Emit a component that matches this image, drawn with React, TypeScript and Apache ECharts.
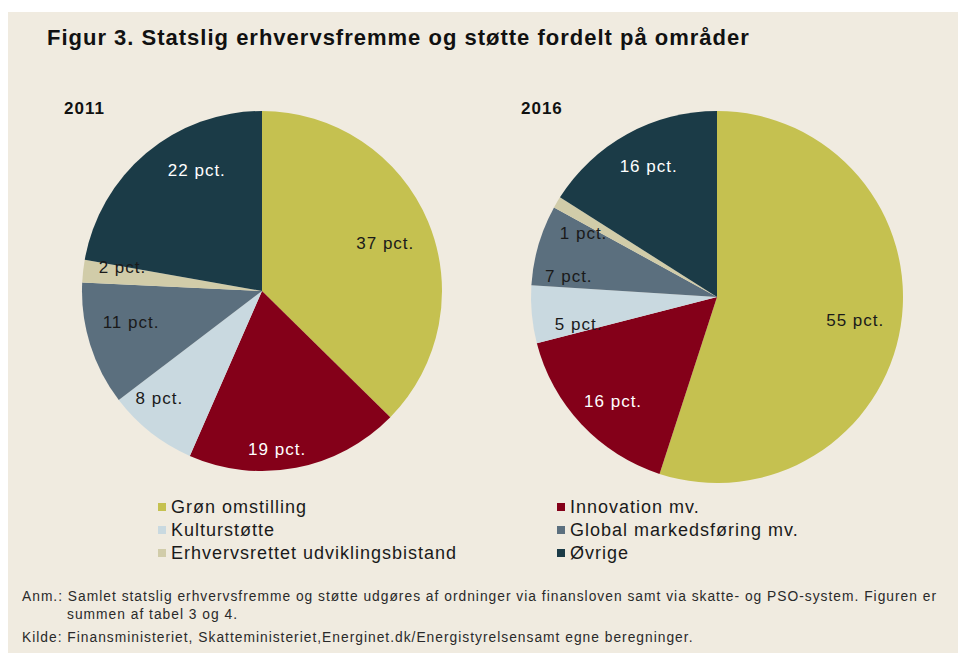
import React, { useEffect, useRef } from "react";
import * as echarts from "echarts";

const categories = [
  "Grøn omstilling",
  "Innovation mv.",
  "Kulturstøtte",
  "Global markedsføring mv.",
  "Erhvervsrettet udviklingsbistand",
  "Øvrige",
];
const values2011 = [37, 19, 8, 11, 2, 22];
const values2016 = [55, 16, 5, 7, 1, 16];
const pieTitles = ["2011", "2016"];
const titleText = "Figur 3. Statslig erhvervsfremme og støtte fordelt på områder";
const noteLines = [
  "Anm.: Samlet statslig erhvervsfremme og støtte udgøres af ordninger via finansloven samt via skatte- og PSO-system. Figuren er",
  "summen af tabel 3 og 4.",
  "Kilde: Finansministeriet, Skatteministeriet,Energinet.dk/Energistyrelsensamt egne beregninger.",
];

const colors = ["#c5c150", "#840019", "#c9d9e0", "#5b6f7e", "#d1cca9", "#1b3b47"];
const labelColors = ["#1a1a1a", "#ffffff", "#1a1a1a", "#1a1a1a", "#1a1a1a", "#ffffff"];
// manual nudges of the slice labels (as placed in the original)
const labelNudge2011 = [[-9, 8], [-12, 18], [-14, -5], [6, -11], [3, -8], [27, -11]];
const labelNudge2016 = [[-8, 0], [4, 3], [9, 14], [-6, 21], [-6, 12], [3, -1]];
const FONT = "'Liberation Sans', Arial, Helvetica, sans-serif";

function buildPie(values: number[], center: number[], r: number, nudge: number[][]) {
  const base = {
    type: "pie",
    center,
    radius: [0, r],
    startAngle: 90,
    clockwise: true,
    silent: true,
    label: { show: false },
    labelLine: { show: false },
    data: values.map((v, i) => ({
      name: categories[i],
      value: v,
      itemStyle: { color: colors[i] },
    })),
  };
  const overlay = {
    type: "pie",
    center,
    radius: [r * 0.56, r],
    startAngle: 90,
    clockwise: true,
    silent: true,
    z: 5,
    itemStyle: { color: "rgba(0,0,0,0)" },
    labelLine: { show: false },
    label: {
      show: true,
      position: "inside",
      fontFamily: FONT,
      fontSize: 17,
      formatter: (p: any) => `${p.value} pct.`,
    },
    labelLayout: (p: any) => ({ dx: nudge[p.dataIndex][0], dy: nudge[p.dataIndex][1] }),
    data: values.map((v, i) => ({
      name: categories[i],
      value: v,
      itemStyle: { color: "rgba(0,0,0,0)" },
      label: { color: labelColors[i] },
    })),
  };
  return [base, overlay];
}

function legendFor(indices: number[], left: number) {
  return {
    orient: "vertical",
    left,
    top: 498,
    padding: 0,
    itemWidth: 8,
    itemHeight: 8,
    itemGap: 5,
    icon: "rect",
    selectedMode: false,
    textStyle: { fontFamily: FONT, fontSize: 18, color: "#1a1a1a" },
    data: indices.map((i) => ({ name: categories[i], itemStyle: { color: colors[i] } })),
  };
}

export default function App() {
  const ref = useRef<HTMLDivElement>(null);
  useEffect(() => {
    if (!ref.current) return;
    const chart = echarts.init(ref.current, null, { renderer: "svg" });
    chart.setOption({
      animation: false,
      backgroundColor: "#ffffff",
      title: {
        text: titleText,
        left: 42,
        top: 21,
        textStyle: { fontFamily: FONT, fontSize: 22, fontWeight: "bold", color: "#111111" },
      },
      legend: [legendFor([0, 2, 4], 158), legendFor([1, 3, 5], 557)],
      graphic: [
        {
          type: "rect",
          z: -10,
          silent: true,
          shape: { x: 8, y: 12, width: 950, height: 641 },
          style: { fill: "#f0ebe0" },
        },
        {
          type: "text",
          x: 64,
          y: 108,
          style: { text: pieTitles[0], font: `bold 17px ${FONT}`, fill: "#111", verticalAlign: "middle" },
        },
        {
          type: "text",
          x: 521,
          y: 108,
          style: { text: pieTitles[1], font: `bold 17px ${FONT}`, fill: "#111", verticalAlign: "middle" },
        },
        {
          type: "text",
          x: 22,
          y: 596,
          style: { text: noteLines[0], font: `13.8px ${FONT}`, fill: "#2a2a2a", verticalAlign: "middle" },
        },
        {
          type: "text",
          x: 67,
          y: 614,
          style: { text: noteLines[1], font: `13.8px ${FONT}`, fill: "#2a2a2a", verticalAlign: "middle" },
        },
        {
          type: "text",
          x: 22,
          y: 637,
          style: { text: noteLines[2], font: `13.8px ${FONT}`, fill: "#2a2a2a", verticalAlign: "middle" },
        },
      ],
      series: [
        ...buildPie(values2011, [262, 291], 180, labelNudge2011),
        ...buildPie(values2016, [717, 297], 186, labelNudge2016),
      ],
    });
    return () => chart.dispose();
  }, []);
  return (
    <div
      ref={ref}
      style={{ position: "fixed", left: 0, top: 0, width: 958, height: 653, letterSpacing: "1px" }}
    />
  );
}
